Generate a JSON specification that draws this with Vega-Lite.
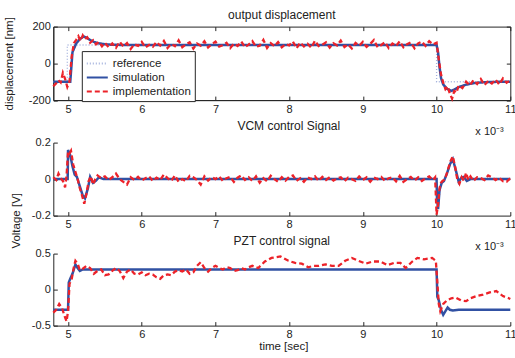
{
 "$schema": "https://vega.github.io/schema/vega-lite/v6.json",
 "autosize": {"type": "none"},
 "padding": {"left": 53.3, "top": 26.6, "right": 461.7, "bottom": 331.4},
 "config": {
  "font": "Liberation Sans",
  "view": {"stroke": null},
  "axis": {"labelFontSize": 11, "labelColor": "#222", "titleFontSize": 11.5, "titleFontWeight": "normal", "titleColor": "#222", "domainColor": "#262626", "tickColor": "#262626", "tickSize": -4, "labelPadding": 7, "grid": false, "labelFlush": false, "labelOverlap": false, "labelExpr": "toString(datum.value)"},
  "title": {"fontSize": 12, "fontWeight": "normal", "color": "#222", "baseline": "alphabetic"}
 },
 "bounds": "flush",
 "spacing": 42,
 "vconcat": [
  {
   "width": 457, "height": 73.5,
   "title": {"text": "output displacement", "offset": -5.6},
   "view": {"stroke": "#262626"},
   "resolve": {"axis": {"x": "independent", "y": "independent"}},
   "layer": [
    {
     "encoding": {
      "x": {"field": "t", "type": "quantitative", "scale": {"domain": [4.8, 11], "nice": false, "zero": false}, "axis": {"values": [5, 6, 7, 8, 9, 10, 11], "title": "x 10⁻³", "titleX": 450, "titleY": 34, "titleAlign": "right", "titleBaseline": "alphabetic", "titleFontSize": 11}},
      "y": {"field": "v", "type": "quantitative", "scale": {"domain": [-200, 200], "nice": false}, "axis": {"values": [-200, 0, 200], "title": "displacement [nm]", "titleX": -40.6, "titleY": 36.7, "titleBaseline": "alphabetic"}},
      "order": {"value": null}
     },
     "layer": [
      {
       "data": {"values": [{"t": 4.8, "v": -100}, {"t": 4.99, "v": -100}, {"t": 4.99, "v": 100}, {"t": 10.0, "v": 100}, {"t": 10.0, "v": -100}, {"t": 11, "v": -100}]},
       "mark": {"type": "line", "strokeWidth": 1.3},
       "encoding": {
        "color": {"datum": "reference", "scale": {"domain": ["reference", "simulation", "implementation"], "range": ["#a3b1dc", "#3151a3", "#ec2229"]}, "legend": {"orient": "none", "legendX": 28.5, "legendY": 24.5, "title": null, "fillColor": "white", "strokeColor": "#262626", "padding": 4, "symbolType": "M-1.4,0L1.4,0", "symbolSize": 225, "symbolStrokeWidth": 2, "symbolOffset": 3, "symbolFillColor": "transparent", "labelOffset": 7, "labelFontSize": 11.5, "labelColor": "#222", "rowPadding": 0}},
        "strokeDash": {"datum": "reference", "scale": {"domain": ["reference", "simulation", "implementation"], "range": [[1, 2], [1, 0], [5, 3]]}, "legend": {"orient": "none", "legendX": 28.5, "legendY": 24.5, "title": null}}
       }
      },
      {
       "data": {"values": [{"t": 4.8, "v": -100}, {"t": 5.03, "v": -100}, {"t": 5.045, "v": -20}, {"t": 5.06, "v": 60}, {"t": 5.11, "v": 108}, {"t": 5.16, "v": 132}, {"t": 5.21, "v": 146}, {"t": 5.25, "v": 140}, {"t": 5.3, "v": 127}, {"t": 5.35, "v": 117}, {"t": 5.4, "v": 110}, {"t": 5.5, "v": 104}, {"t": 5.6, "v": 101}, {"t": 5.8, "v": 100}, {"t": 10.0, "v": 100}, {"t": 10.02, "v": 60}, {"t": 10.04, "v": -20}, {"t": 10.06, "v": -80}, {"t": 10.09, "v": -115}, {"t": 10.14, "v": -138}, {"t": 10.2, "v": -150}, {"t": 10.25, "v": -141}, {"t": 10.3, "v": -129}, {"t": 10.4, "v": -116}, {"t": 10.5, "v": -108}, {"t": 10.6, "v": -104}, {"t": 10.75, "v": -101}, {"t": 11, "v": -100}]},
       "mark": {"type": "line", "strokeWidth": 2.5},
       "encoding": {"color": {"datum": "simulation"}, "strokeDash": {"datum": "simulation"}}
      },
      {
       "data": {"values": [{"t": 4.8, "v": -125}, {"t": 4.84, "v": -108}, {"t": 4.87, "v": -92}, {"t": 4.9, "v": -104}, {"t": 4.93, "v": -52}, {"t": 4.96, "v": -85}, {"t": 4.99, "v": -128}, {"t": 5.02, "v": -98}, {"t": 5.05, "v": 40}, {"t": 5.08, "v": 110}, {"t": 5.11, "v": 128}, {"t": 5.14, "v": 148}, {"t": 5.17, "v": 122}, {"t": 5.2, "v": 152}, {"t": 5.23, "v": 132}, {"t": 5.26, "v": 142}, {"t": 5.3, "v": 112}, {"t": 5.34, "v": 126}, {"t": 5.38, "v": 104}, {"t": 5.42, "v": 117}, {"t": 5.46, "v": 93}, {"t": 5.5, "v": 112}, {"t": 5.55, "v": 88}, {"t": 5.6, "v": 108}, {"t": 5.65, "v": 85}, {"t": 5.7, "v": 118}, {"t": 5.75, "v": 92}, {"t": 5.8, "v": 110}, {"t": 5.85, "v": 78}, {"t": 5.9, "v": 104}, {"t": 5.95, "v": 95}, {"t": 6.0, "v": 117}, {"t": 6.05, "v": 86}, {"t": 6.1, "v": 101}, {"t": 6.15, "v": 90}, {"t": 6.2, "v": 116}, {"t": 6.25, "v": 97}, {"t": 6.3, "v": 122}, {"t": 6.35, "v": 84}, {"t": 6.4, "v": 106}, {"t": 6.45, "v": 93}, {"t": 6.5, "v": 125}, {"t": 6.55, "v": 88}, {"t": 6.6, "v": 103}, {"t": 6.65, "v": 115}, {"t": 6.7, "v": 80}, {"t": 6.75, "v": 108}, {"t": 6.8, "v": 96}, {"t": 6.85, "v": 120}, {"t": 6.9, "v": 86}, {"t": 6.95, "v": 104}, {"t": 7.0, "v": 118}, {"t": 7.05, "v": 91}, {"t": 7.1, "v": 99}, {"t": 7.15, "v": 112}, {"t": 7.2, "v": 83}, {"t": 7.25, "v": 107}, {"t": 7.3, "v": 95}, {"t": 7.35, "v": 119}, {"t": 7.4, "v": 88}, {"t": 7.45, "v": 102}, {"t": 7.5, "v": 121}, {"t": 7.55, "v": 90}, {"t": 7.6, "v": 96}, {"t": 7.65, "v": 128}, {"t": 7.7, "v": 84}, {"t": 7.75, "v": 110}, {"t": 7.8, "v": 93}, {"t": 7.85, "v": 116}, {"t": 7.9, "v": 87}, {"t": 7.95, "v": 105}, {"t": 8.0, "v": 98}, {"t": 8.05, "v": 119}, {"t": 8.1, "v": 82}, {"t": 8.15, "v": 113}, {"t": 8.2, "v": 92}, {"t": 8.25, "v": 107}, {"t": 8.3, "v": 85}, {"t": 8.35, "v": 123}, {"t": 8.4, "v": 94}, {"t": 8.45, "v": 101}, {"t": 8.5, "v": 114}, {"t": 8.55, "v": 86}, {"t": 8.6, "v": 109}, {"t": 8.65, "v": 97}, {"t": 8.7, "v": 124}, {"t": 8.75, "v": 89}, {"t": 8.8, "v": 103}, {"t": 8.85, "v": 81}, {"t": 8.9, "v": 111}, {"t": 8.95, "v": 96}, {"t": 9.0, "v": 117}, {"t": 9.05, "v": 90}, {"t": 9.1, "v": 106}, {"t": 9.15, "v": 127}, {"t": 9.2, "v": 88}, {"t": 9.25, "v": 100}, {"t": 9.3, "v": 115}, {"t": 9.35, "v": 83}, {"t": 9.4, "v": 108}, {"t": 9.45, "v": 94}, {"t": 9.5, "v": 120}, {"t": 9.55, "v": 87}, {"t": 9.6, "v": 104}, {"t": 9.65, "v": 114}, {"t": 9.7, "v": 82}, {"t": 9.75, "v": 109}, {"t": 9.8, "v": 118}, {"t": 9.85, "v": 95}, {"t": 9.9, "v": 121}, {"t": 9.95, "v": 103}, {"t": 10.0, "v": 112}, {"t": 10.03, "v": 20}, {"t": 10.06, "v": -60}, {"t": 10.09, "v": -105}, {"t": 10.12, "v": -140}, {"t": 10.15, "v": -125}, {"t": 10.18, "v": -165}, {"t": 10.21, "v": -192}, {"t": 10.24, "v": -150}, {"t": 10.27, "v": -160}, {"t": 10.3, "v": -120}, {"t": 10.35, "v": -135}, {"t": 10.4, "v": -100}, {"t": 10.45, "v": -120}, {"t": 10.5, "v": -92}, {"t": 10.55, "v": -112}, {"t": 10.6, "v": -85}, {"t": 10.65, "v": -118}, {"t": 10.7, "v": -95}, {"t": 10.75, "v": -110}, {"t": 10.8, "v": -88}, {"t": 10.85, "v": -115}, {"t": 10.9, "v": -82}, {"t": 10.95, "v": -105}, {"t": 11.0, "v": -92}]},
       "mark": {"type": "line", "strokeWidth": 2.3},
       "encoding": {"color": {"datum": "implementation"}, "strokeDash": {"datum": "implementation"}}
      }
     ]
    },
    {
     "data": {"values": [{"t": 4.8, "v": -100}, {"t": 11, "v": -100}]},
     "mark": {"type": "point", "opacity": 0},
     "encoding": {
      "x": {"field": "t", "type": "quantitative", "axis": {"orient": "top", "values": [5, 6, 7, 8, 9, 10, 11], "labels": false, "title": null, "domain": false}},
      "y": {"field": "v", "type": "quantitative", "axis": {"orient": "right", "values": [-200, 0, 200], "labels": false, "title": null, "domain": false}}
     }
    }
   ]
  },
  {
   "bounds": "flush",
   "spacing": 38,
   "vconcat": [
    {
     "width": 457, "height": 73,
     "title": {"text": "VCM control Signal", "offset": 3.5, "dx": 7},
     "encoding": {
      "x": {"field": "t", "type": "quantitative", "scale": {"domain": [4.8, 11], "nice": false, "zero": false}, "axis": {"values": [5, 6, 7, 8, 9, 10, 11], "title": "x 10⁻³", "titleX": 450, "titleY": 34, "titleAlign": "right", "titleBaseline": "alphabetic", "titleFontSize": 11}},
      "y": {"field": "v", "type": "quantitative", "scale": {"domain": [-0.2, 0.2], "nice": false}, "axis": {"values": [-0.2, 0, 0.2], "title": "Voltage [V]", "titleX": -33.8, "titleY": 77.7, "titleBaseline": "alphabetic"}},
      "order": {"value": null}
     },
     "layer": [
      {
       "data": {"values": [{"t": 4.8, "v": 0}, {"t": 4.995, "v": 0}, {"t": 5.0, "v": 0.16}, {"t": 5.03, "v": 0.13}, {"t": 5.06, "v": 0.07}, {"t": 5.09, "v": 0.025}, {"t": 5.12, "v": 0.012}, {"t": 5.16, "v": -0.04}, {"t": 5.2, "v": -0.09}, {"t": 5.23, "v": -0.105}, {"t": 5.27, "v": -0.05}, {"t": 5.3, "v": 0.012}, {"t": 5.34, "v": -0.02}, {"t": 5.38, "v": -0.008}, {"t": 5.42, "v": 0.01}, {"t": 5.48, "v": 0}, {"t": 10.0, "v": 0}, {"t": 10.005, "v": -0.1}, {"t": 10.02, "v": -0.165}, {"t": 10.04, "v": -0.06}, {"t": 10.07, "v": -0.02}, {"t": 10.1, "v": -0.01}, {"t": 10.14, "v": 0.03}, {"t": 10.18, "v": 0.08}, {"t": 10.22, "v": 0.11}, {"t": 10.26, "v": 0.05}, {"t": 10.3, "v": -0.015}, {"t": 10.34, "v": 0.01}, {"t": 10.37, "v": 0.012}, {"t": 10.41, "v": -0.01}, {"t": 10.46, "v": 0}, {"t": 11, "v": 0}]},
       "mark": {"type": "line", "strokeWidth": 2.5, "color": "#3151a3"}
      },
      {
       "data": {"values": [{"t": 4.8, "v": 0.01}, {"t": 4.84, "v": -0.005}, {"t": 4.87, "v": 0.03}, {"t": 4.9, "v": 0.005}, {"t": 4.93, "v": -0.01}, {"t": 4.96, "v": -0.045}, {"t": 4.98, "v": 0.02}, {"t": 5.0, "v": 0.15}, {"t": 5.02, "v": 0.14}, {"t": 5.04, "v": 0.155}, {"t": 5.07, "v": 0.08}, {"t": 5.1, "v": 0.04}, {"t": 5.13, "v": 0.0}, {"t": 5.16, "v": -0.05}, {"t": 5.19, "v": -0.09}, {"t": 5.22, "v": -0.135}, {"t": 5.25, "v": -0.08}, {"t": 5.28, "v": -0.01}, {"t": 5.31, "v": 0.015}, {"t": 5.34, "v": -0.03}, {"t": 5.37, "v": 0.0}, {"t": 5.4, "v": 0.02}, {"t": 5.45, "v": 0.005}, {"t": 5.5, "v": 0.015}, {"t": 5.55, "v": -0.005}, {"t": 5.6, "v": 0.01}, {"t": 5.65, "v": 0.03}, {"t": 5.7, "v": 0.0}, {"t": 5.75, "v": -0.015}, {"t": 5.8, "v": -0.03}, {"t": 5.85, "v": 0.01}, {"t": 5.9, "v": -0.005}, {"t": 5.95, "v": 0.012}, {"t": 6.0, "v": -0.008}, {"t": 6.05, "v": 0.005}, {"t": 6.1, "v": 0.015}, {"t": 6.15, "v": -0.01}, {"t": 6.2, "v": 0.008}, {"t": 6.25, "v": -0.005}, {"t": 6.3, "v": 0.025}, {"t": 6.35, "v": 0.005}, {"t": 6.4, "v": -0.01}, {"t": 6.45, "v": 0.02}, {"t": 6.5, "v": -0.015}, {"t": 6.55, "v": 0.0}, {"t": 6.6, "v": -0.012}, {"t": 6.65, "v": 0.018}, {"t": 6.7, "v": 0.01}, {"t": 6.75, "v": -0.005}, {"t": 6.8, "v": -0.03}, {"t": 6.85, "v": 0.015}, {"t": 6.9, "v": -0.008}, {"t": 6.95, "v": 0.01}, {"t": 7.0, "v": 0.0}, {"t": 7.05, "v": 0.015}, {"t": 7.1, "v": -0.01}, {"t": 7.15, "v": 0.005}, {"t": 7.2, "v": 0.012}, {"t": 7.25, "v": -0.015}, {"t": 7.3, "v": 0.008}, {"t": 7.35, "v": 0.02}, {"t": 7.4, "v": -0.005}, {"t": 7.45, "v": 0.01}, {"t": 7.5, "v": -0.01}, {"t": 7.55, "v": 0.015}, {"t": 7.6, "v": -0.02}, {"t": 7.65, "v": 0.005}, {"t": 7.7, "v": -0.012}, {"t": 7.75, "v": 0.018}, {"t": 7.8, "v": 0.0}, {"t": 7.85, "v": -0.015}, {"t": 7.9, "v": 0.01}, {"t": 7.95, "v": -0.008}, {"t": 8.0, "v": 0.012}, {"t": 8.05, "v": 0.02}, {"t": 8.1, "v": -0.01}, {"t": 8.15, "v": 0.005}, {"t": 8.2, "v": -0.015}, {"t": 8.25, "v": 0.01}, {"t": 8.3, "v": 0.0}, {"t": 8.35, "v": 0.015}, {"t": 8.4, "v": -0.01}, {"t": 8.45, "v": 0.012}, {"t": 8.5, "v": -0.005}, {"t": 8.55, "v": 0.01}, {"t": 8.6, "v": -0.008}, {"t": 8.65, "v": 0.005}, {"t": 8.7, "v": 0.01}, {"t": 8.75, "v": -0.012}, {"t": 8.8, "v": 0.008}, {"t": 8.85, "v": 0.0}, {"t": 8.9, "v": -0.01}, {"t": 8.95, "v": 0.015}, {"t": 9.0, "v": -0.005}, {"t": 9.05, "v": 0.01}, {"t": 9.1, "v": -0.015}, {"t": 9.15, "v": 0.008}, {"t": 9.2, "v": 0.0}, {"t": 9.25, "v": 0.012}, {"t": 9.3, "v": -0.01}, {"t": 9.35, "v": 0.005}, {"t": 9.4, "v": 0.01}, {"t": 9.45, "v": -0.012}, {"t": 9.5, "v": 0.018}, {"t": 9.55, "v": -0.015}, {"t": 9.6, "v": 0.0}, {"t": 9.65, "v": 0.012}, {"t": 9.7, "v": -0.008}, {"t": 9.75, "v": 0.01}, {"t": 9.8, "v": -0.01}, {"t": 9.85, "v": 0.005}, {"t": 9.9, "v": 0.015}, {"t": 9.95, "v": -0.005}, {"t": 9.98, "v": 0.01}, {"t": 10.0, "v": -0.195}, {"t": 10.02, "v": -0.14}, {"t": 10.04, "v": -0.05}, {"t": 10.06, "v": -0.02}, {"t": 10.08, "v": -0.01}, {"t": 10.1, "v": -0.005}, {"t": 10.13, "v": 0.02}, {"t": 10.16, "v": 0.06}, {"t": 10.19, "v": 0.1}, {"t": 10.22, "v": 0.125}, {"t": 10.25, "v": 0.07}, {"t": 10.28, "v": 0.0}, {"t": 10.31, "v": -0.025}, {"t": 10.34, "v": 0.01}, {"t": 10.37, "v": -0.01}, {"t": 10.4, "v": 0.035}, {"t": 10.43, "v": -0.005}, {"t": 10.46, "v": 0.015}, {"t": 10.5, "v": -0.01}, {"t": 10.55, "v": 0.01}, {"t": 10.6, "v": 0.005}, {"t": 10.65, "v": -0.005}, {"t": 10.7, "v": 0.02}, {"t": 10.75, "v": 0.01}, {"t": 10.8, "v": -0.005}, {"t": 10.85, "v": 0.008}, {"t": 10.9, "v": -0.012}, {"t": 10.95, "v": -0.015}, {"t": 11.0, "v": 0.005}]},
       "mark": {"type": "line", "strokeWidth": 2.3, "color": "#ec2229", "strokeDash": [5, 3]}
      }
     ]
    },
    {
     "width": 457, "height": 72,
     "title": {"text": "PZT control signal", "offset": -0.2},
     "encoding": {
      "x": {"field": "t", "type": "quantitative", "scale": {"domain": [4.8, 11], "nice": false, "zero": false}, "axis": {"values": [5, 6, 7, 8, 9, 10, 11], "title": "time [sec]", "titleX": 230, "titleY": 24, "titleBaseline": "alphabetic"}},
      "y": {"field": "v", "type": "quantitative", "scale": {"domain": [-0.5, 0.5], "nice": false}, "axis": {"values": [-0.5, 0, 0.5], "title": null}},
      "order": {"value": null}
     },
     "layer": [
      {
       "data": {"values": [{"t": 4.8, "v": -0.28}, {"t": 5.0, "v": -0.28}, {"t": 5.01, "v": 0.1}, {"t": 5.03, "v": 0.15}, {"t": 5.06, "v": 0.22}, {"t": 5.1, "v": 0.35}, {"t": 5.13, "v": 0.3}, {"t": 5.16, "v": 0.26}, {"t": 5.2, "v": 0.28}, {"t": 10.0, "v": 0.28}, {"t": 10.01, "v": -0.1}, {"t": 10.03, "v": -0.15}, {"t": 10.06, "v": -0.28}, {"t": 10.09, "v": -0.35}, {"t": 10.12, "v": -0.3}, {"t": 10.15, "v": -0.25}, {"t": 10.18, "v": -0.28}, {"t": 10.22, "v": -0.29}, {"t": 10.3, "v": -0.28}, {"t": 11, "v": -0.28}]},
       "mark": {"type": "line", "strokeWidth": 2.5, "color": "#3151a3"}
      },
      {
       "data": {"values": [{"t": 4.8, "v": -0.32}, {"t": 4.84, "v": -0.28}, {"t": 4.88, "v": -0.2}, {"t": 4.92, "v": -0.26}, {"t": 4.95, "v": -0.36}, {"t": 4.98, "v": -0.44}, {"t": 5.0, "v": -0.3}, {"t": 5.02, "v": 0.08}, {"t": 5.05, "v": 0.15}, {"t": 5.08, "v": 0.32}, {"t": 5.1, "v": 0.4}, {"t": 5.13, "v": 0.36}, {"t": 5.16, "v": 0.27}, {"t": 5.2, "v": 0.29}, {"t": 5.25, "v": 0.33}, {"t": 5.3, "v": 0.3}, {"t": 5.35, "v": 0.22}, {"t": 5.4, "v": 0.26}, {"t": 5.45, "v": 0.28}, {"t": 5.5, "v": 0.2}, {"t": 5.55, "v": 0.21}, {"t": 5.6, "v": 0.26}, {"t": 5.65, "v": 0.3}, {"t": 5.7, "v": 0.26}, {"t": 5.75, "v": 0.16}, {"t": 5.8, "v": 0.25}, {"t": 5.85, "v": 0.28}, {"t": 5.9, "v": 0.22}, {"t": 5.95, "v": 0.21}, {"t": 6.0, "v": 0.24}, {"t": 6.05, "v": 0.2}, {"t": 6.1, "v": 0.22}, {"t": 6.15, "v": 0.21}, {"t": 6.2, "v": 0.17}, {"t": 6.25, "v": 0.15}, {"t": 6.3, "v": 0.2}, {"t": 6.35, "v": 0.21}, {"t": 6.4, "v": 0.2}, {"t": 6.45, "v": 0.25}, {"t": 6.5, "v": 0.27}, {"t": 6.55, "v": 0.25}, {"t": 6.6, "v": 0.28}, {"t": 6.65, "v": 0.22}, {"t": 6.7, "v": 0.24}, {"t": 6.75, "v": 0.33}, {"t": 6.8, "v": 0.38}, {"t": 6.85, "v": 0.3}, {"t": 6.9, "v": 0.25}, {"t": 6.95, "v": 0.3}, {"t": 7.0, "v": 0.33}, {"t": 7.05, "v": 0.3}, {"t": 7.1, "v": 0.28}, {"t": 7.15, "v": 0.31}, {"t": 7.2, "v": 0.3}, {"t": 7.25, "v": 0.26}, {"t": 7.3, "v": 0.27}, {"t": 7.35, "v": 0.3}, {"t": 7.4, "v": 0.28}, {"t": 7.45, "v": 0.31}, {"t": 7.5, "v": 0.33}, {"t": 7.58, "v": 0.3}, {"t": 7.67, "v": 0.39}, {"t": 7.76, "v": 0.44}, {"t": 7.88, "v": 0.46}, {"t": 7.99, "v": 0.4}, {"t": 8.08, "v": 0.37}, {"t": 8.17, "v": 0.36}, {"t": 8.26, "v": 0.31}, {"t": 8.33, "v": 0.33}, {"t": 8.4, "v": 0.33}, {"t": 8.49, "v": 0.35}, {"t": 8.58, "v": 0.33}, {"t": 8.67, "v": 0.33}, {"t": 8.76, "v": 0.4}, {"t": 8.85, "v": 0.44}, {"t": 8.94, "v": 0.4}, {"t": 9.04, "v": 0.36}, {"t": 9.13, "v": 0.39}, {"t": 9.24, "v": 0.39}, {"t": 9.33, "v": 0.34}, {"t": 9.42, "v": 0.37}, {"t": 9.51, "v": 0.37}, {"t": 9.58, "v": 0.3}, {"t": 9.67, "v": 0.39}, {"t": 9.74, "v": 0.44}, {"t": 9.83, "v": 0.42}, {"t": 9.94, "v": 0.44}, {"t": 9.99, "v": 0.4}, {"t": 10.01, "v": 0.1}, {"t": 10.03, "v": -0.2}, {"t": 10.05, "v": -0.3}, {"t": 10.09, "v": -0.2}, {"t": 10.14, "v": -0.15}, {"t": 10.2, "v": -0.12}, {"t": 10.26, "v": -0.11}, {"t": 10.33, "v": -0.15}, {"t": 10.4, "v": -0.16}, {"t": 10.46, "v": -0.12}, {"t": 10.54, "v": -0.09}, {"t": 10.63, "v": -0.07}, {"t": 10.72, "v": -0.04}, {"t": 10.81, "v": -0.02}, {"t": 10.9, "v": -0.09}, {"t": 10.98, "v": -0.12}, {"t": 11.0, "v": -0.13}]},
       "mark": {"type": "line", "strokeWidth": 2.3, "color": "#ec2229", "strokeDash": [5, 3]}
      },
      {
       "mark": {"type": "text", "text": "x 10⁻³", "align": "right", "baseline": "alphabetic", "dx": -9, "dy": 30, "fontSize": 11, "color": "#222"},
       "encoding": {"x": {"datum": 11}, "y": {"datum": -0.5}}
      }
     ]
    }
   ]
  }
 ]
}
